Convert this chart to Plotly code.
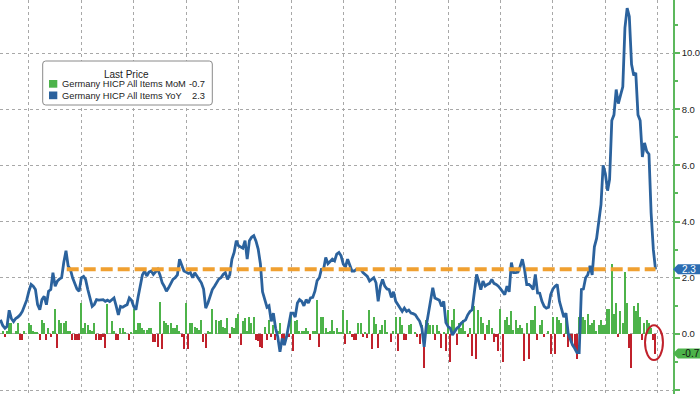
import pandas as pd
import plotly.graph_objects as go

# ---------------- data (monthly, month-end, Nov 1998 -> Nov 2023) ----------------
first_month_end = "1998-11-30"

yoy = [
    0.5, 0.3,
    0.2, 0.26, 0.84, 0.55, 0.44, 0.55, 0.6, 0.68, 0.8, 0.98, 1.2, 1.52,
    1.76, 1.7, 1.58, 1.04, 0.86, 1.22, 1.34, 1.04, 1.52, 1.58, 2.18, 1.70,
    1.88, 1.95, 2.0, 2.54, 2.96, 2.42, 2.30, 2.0, 1.8, 1.6, 1.52, 2.0,
    2.05, 1.94, 1.58, 1.3, 0.98, 1.05, 1.22, 1.2, 1.22, 1.22, 1.16, 1.2,
    1.15, 1.22, 1.28, 1.0, 0.68, 0.98, 0.95, 1.0, 1.04, 1.28, 1.2, 0.98,
    0.86, 1.3, 1.7, 2.1, 2.24, 2.06, 2.2, 2.24, 2.12, 2.2, 2.30, 2.1,
    1.82, 1.7, 1.52, 1.64, 1.8, 1.94, 2.0, 2.1, 2.66, 2.48, 2.24, 2.2,
    2.15, 2.18, 2.0, 2.18, 2.05, 1.94, 1.82, 1.6, 0.92, 1.1, 1.35, 1.58,
    1.7, 1.82, 1.95, 2.0, 2.12, 2.18, 1.94, 2.1, 2.66, 2.9, 3.32, 3.14,
    3.08, 3.05, 3.32, 2.66, 3.32, 3.44, 3.5, 3.3, 3.02, 2.5, 1.5, 1.2,
    0.95, 1.0, 0.45, 0.74, 0.2, -0.1, -0.64, -0.16, -0.4, -0.1, 0.3, 0.74,
    0.74, 0.6, 1.1, 1.22, 1.16, 1.0, 1.22, 1.1, 1.28, 1.3, 1.52, 1.9,
    2.0, 2.3, 2.3, 2.72, 2.5, 2.6, 2.66, 2.6, 2.84, 2.9, 2.78, 2.48,
    2.4, 2.66, 2.42, 2.24, 2.24, 2.3, 2.3, 2.3, 2.18, 2.12, 2.05, 1.88,
    1.95, 2.0, 1.82, 1.16, 1.7, 1.94, 1.70, 1.6, 1.58, 1.3, 1.5, 1.16,
    1.04, 0.9, 0.8, 0.92, 0.8, 0.85, 0.74, 0.72, 0.68, 0.56, 0.45, 0.2,
    -0.46, 0.26, 0.7, 1.1, 1.64, 1.28, 1.25, 1.2, 0.98, 1.16, 0.4, 0.26,
    0.2, -0.04, 0.08, 0.2, 0.26, 0.38, 0.45, 0.5, 0.68, 0.8, 0.86, 1.4,
    2.12, 1.88, 1.58, 1.88, 1.7, 1.76, 1.8, 1.94, 1.8, 1.76, 1.70, 1.6,
    1.5, 1.40, 1.70, 1.5, 2.54, 2.18, 2.18, 2.2, 2.4, 2.66, 2.30, 1.76,
    1.76, 1.7, 1.58, 2.12, 1.46, 1.45, 1.16, 0.98, 0.92, 0.95, 1.40, 1.6,
    1.70, 1.76, 1.16, 0.86, 0.6, 0.74, 0.02, -0.2, -0.4, -0.52, -0.67, -0.67,
    1.58, 1.6, 2.0, 2.1, 2.42, 2.1, 3.1, 3.4, 4.1, 4.6, 6.0, 5.7,
    5.1, 5.5, 7.6, 7.8, 8.7, 8.2, 8.5, 8.8, 10.9, 11.6, 11.3, 9.6,
    9.2, 9.3, 7.8, 7.6, 6.3, 6.8, 6.5, 6.4, 4.3, 3.0, 2.3,
]

mom = [
    0.0, 0.1,
    -0.1, 0.1, 0.4, 0.4, 0.0, 0.1, 0.4, -0.2, -0.2, 0.1, 0.0, 0.4,
    0.3, 0.1, 0.05, 0.05, -0.2, 0.5, 0.4, -0.2, 0.2, -0.1, 0.1, 0.9,
    -0.5, 0.5, 0.4, 0.4, 0.45, 0.1, 0.1, -0.2, -0.2, -0.2, -0.2, 1.1,
    0.2, 0.4, 0.3, 0.15, 0.1, 0.4, -0.2, -0.2, -0.2, -0.1, -0.5, 1.05,
    0.0, 0.45, 0.1, -0.2, -0.2, 0.2, 0.2, 0.05, 0.0, -0.2, 0.05, 0.9,
    0.15, 0.4, 0.4, 0.2, 0.15, 0.15, 0.2, 0.2, -0.3, -0.3, -0.45, 1.15,
    -0.55, 0.45, 0.4, 0.3, 0.4, 0.2, 0.2, 0.3, 0.1, -0.1, -0.55, 1.1,
    -0.55, 0.4, 0.4, 0.25, 0.2, 0.15, 0.5, -0.3, -0.5, 0.1, 0.05, 0.9,
    0.0, 0.5, 0.45, 0.5, 0.25, 0.2, 0.55, -0.15, 0.25, 0.2, 0.55, 0.7,
    -0.4, 0.45, 0.55, 0.1, 0.6, 0.4, 0.6, -0.2, -0.25, -0.45, -0.5, 0.25,
    -0.2, 0.5, -0.1, 0.3, -0.2, 0.1, 0.4, -0.3, -0.4, 0.0, -0.1, 0.7,
    -0.6, 0.45, 0.5, 0.1, 0.1, 0.1, 0.2, 0.1, -0.2, 0.1, 0.1, 1.2,
    -0.45, 0.6, 0.6, 0.2, 0.05, 0.1, 0.5, 0.1, 0.2, 0.05, 0.05, 0.85,
    -0.35, 0.5, 0.1, -0.1, -0.2, -0.2, 0.4, 0.4, -0.1, 0.05, -0.15, 0.85,
    -0.55, 0.6, 0.35, -0.5, 0.15, 0.3, 0.5, 0.05, 0.0, -0.3, 0.1, 0.6,
    -0.6, 0.6, 0.3, -0.2, -0.2, 0.3, 0.35, 0.0, 0.05, -0.1, -0.35, 0.3,
    -1.2, 0.5, 0.4, 0.3, 0.3, -0.2, 0.3, 0.1, -0.5, 0.05, -0.6, 0.85,
    -1.0, 0.5, 0.9, -0.4, 0.4, 0.2, 0.5, 0.1, -0.1, 0.2, -0.8, 1.0,
    -0.9, 0.85, 0.6, 0.4, -0.2, 0.3, 0.5, 0.2, -0.3, -0.1, -0.6, 0.9,
    -1.0, 0.5, 0.6, 0.3, 0.8, 0.15, 0.5, 0.2, 0.3, 0.2, -0.95, 0.4,
    -0.9, 0.5, 0.5, 1.0, -0.2, 0.3, 0.5, -0.1, 0.0, 0.1, -0.7, 0.6,
    -0.7, 0.6, 0.5, 0.4, -0.1, 0.6, -0.45, -0.2, -0.4, -0.5, -0.9, 0.6,
    1.4, 0.6, 0.5, 0.7, 0.3, 0.4, 0.5, 0.1, 0.3, 0.5, 0.3, 0.3,
    0.9, 0.9, 2.5, 0.7, 1.1, -0.1, 0.8, 0.4, 2.2, 1.1, -0.5, -1.2,
    1.0, 0.8, 1.1, 0.6, -0.2, 0.4, 0.5, 0.4, 0.2, -0.2, -0.7,
]

series_names = ["Germany HICP All Items MoM", "Germany HICP All Items YoY"]
last_mom = -0.7
last_yoy = 2.3
ref_level = 2.3
ref_start = "2001-06-10"
ref_end = "2023-11-30"
ytick_vals = [-2, 0, 2, 4, 6, 8, 10]
ytop_label = 12

# ---------------- styling ----------------
GREEN = "#4db34a"
RED = "#c0212b"
BLUE = "#2b629d"
ORANGE = "#f0a030"
AXIS_GREEN = "#5cb85c"
GRID = "#a8a8a8"
FONT = "Liberation Sans"

W, H = 700, 394
PLOT_W = 673


def px(x):
    return x / PLOT_W


def py(y):
    return 1 - y / H


dates = pd.date_range(start=first_month_end, periods=len(yoy), freq=pd.offsets.MonthEnd())
mom_dates = pd.date_range(start=first_month_end, periods=len(mom), freq=pd.offsets.MonthEnd())

fig = go.Figure()
fig.add_trace(go.Bar(
    x=mom_dates, y=mom,
    marker=dict(color=[GREEN if v >= 0 else RED for v in mom], line=dict(width=0)),
    width=1.6e9, name=series_names[0],
))
fig.add_trace(go.Scatter(
    x=dates, y=yoy, mode="lines", name=series_names[1],
    line=dict(color=BLUE, width=2.8),
))
fig.add_trace(go.Scatter(
    x=[ref_start, ref_end], y=[ref_level, ref_level], mode="lines",
    line=dict(color=ORANGE, width=4, dash="12px,5px"), hoverinfo="skip",
))

shapes = []
annotations = []

# red ellipse around the last bar
shapes.append(dict(type="circle", xref="x", yref="y",
                   x0="2023-07-07", x1="2024-03-13", y0=-0.93, y1=0.31,
                   line=dict(color=RED, width=2), layer="above"))

# legend box (rounded)
x0, x1, y0, y1, r = 42.7, 212.3, 61, 105, 3
path = (f"M {px(x0 + r)} {py(y0)} L {px(x1 - r)} {py(y0)} Q {px(x1)} {py(y0)} {px(x1)} {py(y0 + r)} "
        f"L {px(x1)} {py(y1 - r)} Q {px(x1)} {py(y1)} {px(x1 - r)} {py(y1)} "
        f"L {px(x0 + r)} {py(y1)} Q {px(x0)} {py(y1)} {px(x0)} {py(y1 - r)} "
        f"L {px(x0)} {py(y0 + r)} Q {px(x0)} {py(y0)} {px(x0 + r)} {py(y0)} Z")
shapes.append(dict(type="path", xref="paper", yref="paper", path=path,
                   fillcolor="white", line=dict(color="#8a8a8a", width=1), layer="above"))
for (ya, yb, col) in [(80, 87.7, GREEN), (91.5, 99.2, BLUE)]:
    shapes.append(dict(type="rect", xref="paper", yref="paper",
                       x0=px(49), x1=px(57.3), y0=py(yb), y1=py(ya),
                       fillcolor=col, line=dict(width=0), layer="above"))

annotations.append(dict(xref="paper", yref="paper", x=px(126.7), y=py(74), text="Last Price",
                        showarrow=False, xanchor="center", yanchor="middle",
                        font=dict(family=FONT, size=10, color="#222")))
for name, val, yy in [(series_names[0], last_mom, 84.3), (series_names[1], last_yoy, 95.7)]:
    annotations.append(dict(xref="paper", yref="paper", x=px(59.5), y=py(yy), text=name,
                            showarrow=False, xanchor="left", yanchor="middle",
                            font=dict(family=FONT, size=9.3, color="#222")))
    annotations.append(dict(xref="paper", yref="paper", x=px(207), y=py(yy), text=f"{val:.1f}",
                            showarrow=False, xanchor="right", yanchor="middle",
                            font=dict(family=FONT, size=9.3, color="#222")))

# last-value tags on the right axis
half = 5 / (H / 14.03)
for val, fill, tcol in [(last_yoy, "#2c6db2", "white"), (last_mom, "#4cb34a", "#111")]:
    tag = (f"M 1.0 {val} L {px(678)} {val + half} L {px(702)} {val + half} "
           f"L {px(702)} {val - half} L {px(678)} {val - half} Z")
    shapes.append(dict(type="path", xref="paper", yref="y", path=tag,
                       fillcolor=fill, line=dict(width=0), layer="above"))
    annotations.append(dict(xref="paper", yref="y", x=px(680), y=val, text=f"{val:.1f}",
                            showarrow=False, xanchor="left", yanchor="middle",
                            font=dict(family=FONT, size=10, color=tcol)))

# partially visible top label
annotations.append(dict(xref="paper", yref="y", x=1.0, xshift=6, y=ytop_label,
                        text=f"{ytop_label:.1f}", showarrow=False, xanchor="left", yanchor="middle",
                        font=dict(family=FONT, size=9.5, color="#222")))

fig.update_layout(
    width=W, height=H,
    margin=dict(l=0, r=W - PLOT_W, t=0, b=0, autoexpand=False),
    plot_bgcolor="white", paper_bgcolor="white",
    showlegend=False, bargap=0,
    font=dict(family=FONT),
    shapes=shapes, annotations=annotations,
    xaxis=dict(
        type="date", range=["1998-11-23", "2024-07-31"],
        showticklabels=False, ticks="",
        showgrid=True, gridcolor=GRID, griddash="dot", gridwidth=1,
        tick0="2000-01-01", dtick="M24",
        zeroline=False, showline=False,
    ),
    yaxis=dict(
        side="right", range=[-2.14, 11.89],
        tickvals=ytick_vals, ticktext=[f"{v:.1f}" for v in ytick_vals],
        showgrid=True, gridcolor=GRID, griddash="dot", gridwidth=1,
        zeroline=False,
        showline=True, linecolor=AXIS_GREEN, linewidth=1.5,
        ticks="outside", ticklen=5, tickwidth=1.5, tickcolor=AXIS_GREEN,
        minor=dict(dtick=1, tick0=0, ticks="outside", ticklen=3, tickcolor=AXIS_GREEN, showgrid=False),
        tickfont=dict(family=FONT, size=9.5, color="#222"),
    ),
)

fig.write_html(
    "out.html",
    config={"displayModeBar": False},
    post_script="document.body.style.margin='0';document.body.style.overflow='hidden';",
)
